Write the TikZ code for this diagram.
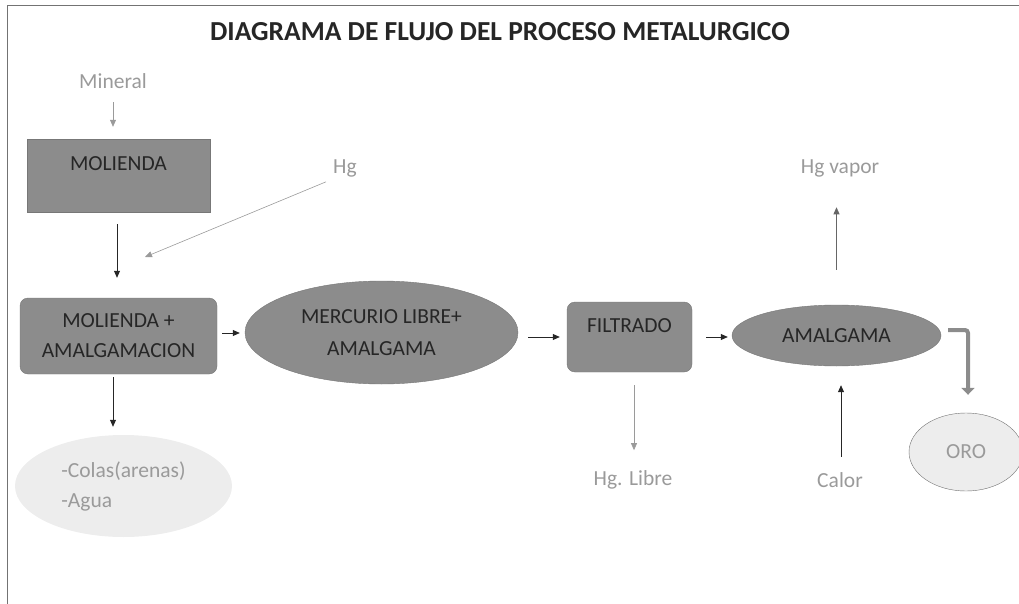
\documentclass[tikz,border=0pt]{standalone}
\usepackage{fontspec}
\setmainfont{Carlito}
\usetikzlibrary{arrows.meta,shapes.geometric}
\definecolor{boxgray}{HTML}{8C8C8C}
\definecolor{boxline}{HTML}{777777}
\definecolor{lighttxt}{HTML}{9A9A9A}
\definecolor{pale}{HTML}{EDEDED}
\begin{document}
\begin{tikzpicture}[x=1pt,y=-1pt,
  every node/.style={font=\fontsize{21.5}{30}\selectfont},
  procbox/.style={draw=boxline,fill=boxgray,text=black!85,inner sep=0pt},
  procell/.style={ellipse,draw=boxline,fill=boxgray,text=black!85,inner sep=0pt},
  lighttext/.style={text=lighttxt},
  darr/.style={-{Triangle[length=7pt,width=6pt]},line width=0.8pt,draw=black!85},
  garr/.style={-{Triangle[length=7pt,width=6pt]},line width=0.6pt,draw=lighttxt}
]
\useasboundingbox (0,0) rectangle (1019,604);
\draw[black!55,line width=0.8pt] (7,604) -- (7,5) -- (1019,5);

\node[text=black!85] (title) at (500,32) {\fontsize{27.5}{30}\selectfont\bfseries DIAGRAMA DE FLUJO DEL PROCESO METALURGICO};

\node[lighttext] (mineral) at (113,81) {Mineral};
\node[procbox,minimum width=183pt,minimum height=73pt,text height=15pt,text depth=25pt] (mol) at (118.5,175.5) {MOLIENDA};
\node[lighttext] (hg) at (345,168) {Hg};
\node[procbox,rounded corners=8pt,minimum width=197pt,minimum height=76pt,align=center] (ma) at (118.5,336) {MOLIENDA +\\AMALGAMACION};
\node[procell,minimum width=273pt,minimum height=103pt,align=center,font=\fontsize{21.5}{32}\selectfont] (merc) at (381.5,332.5) {MERCURIO LIBRE+\\AMALGAMA};
\node[ellipse,fill=pale,minimum width=217pt,minimum height=102pt,inner sep=0pt,text=lighttxt,align=left] (colas) at (123.5,486) {-Colas(arenas)\\-Agua\hspace*{62pt}};
\node[procbox,rounded corners=8pt,minimum width=125pt,minimum height=70pt,text height=15pt,text depth=24pt] (filt) at (629.5,337) {FILTRADO};
\node[lighttext] (hglibre) at (633,480) {Hg. Libre};
\node[procell,minimum width=209pt,minimum height=61pt] (amal) at (836.5,335.5) {AMALGAMA};
\node[lighttext] (hgvapor) at (840,168) {Hg vapor};
\node[lighttext] (calor) at (840,480) {Calor};
\node[ellipse,draw=black!55,fill=pale,minimum width=114pt,minimum height=78pt,inner sep=0pt,text=lighttxt] (oro) at (966,452) {ORO};

\coordinate (hgend) at (145,257);

\draw[garr,shorten <=10pt,shorten >=12pt] (mineral.south) -- (mineral.south |- mol.north);
\draw[garr,shorten <=4pt] (hg.south west) -- (hgend);
\draw[darr,shorten <=12pt,shorten >=20pt] (mol.south -| 117,0) -- (ma.north -| 117,0);
\draw[darr,shorten <=5pt,shorten >=5pt] ([yshift=3pt]ma.east) -- ([yshift=3pt]ma.east -| merc.west);
\draw[darr,shorten <=3pt,shorten >=8pt] (ma.south -| 113,0) -- (colas.north -| 113,0);
\draw[darr,shorten <=10pt,shorten >=7pt] (merc.east |- filt.west) -- (filt.west);
\draw[garr,shorten <=13pt,shorten >=17pt] (filt.south -| 634,0) -- (hglibre.north -| 634,0);
\draw[darr,shorten <=14pt,shorten >=4pt] (filt.east) -- (filt.east -| amal.west);
\draw[darr,draw=black!60,line width=0.6pt,shorten <=35pt,shorten >=27pt] (amal.north) -- (amal.north |- hgvapor.south);
\draw[darr,shorten <=12pt,shorten >=19pt] (calor.north -| 841,0) -- (amal.south -| 841,0);
\draw[-{Triangle[length=7pt,width=13pt]},line width=4pt,draw=black!45,rounded corners=3pt,shorten <=7pt,shorten >=18pt] (amal.east |- 0,330) -- (968,330) -- (oro.north -| 968,0);
\end{tikzpicture}
\end{document}
